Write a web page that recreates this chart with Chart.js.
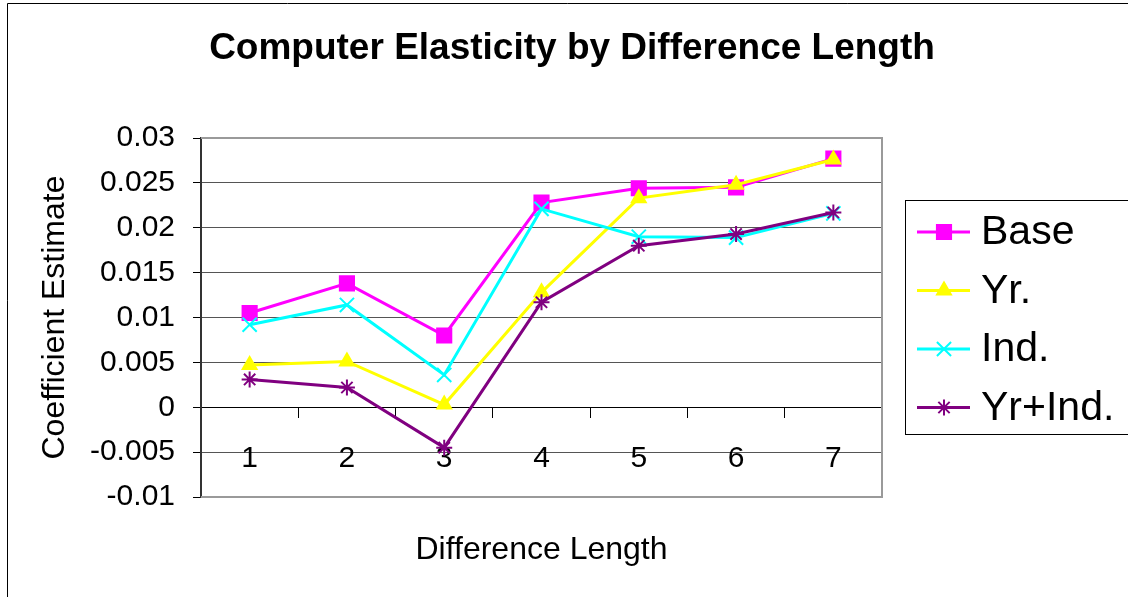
<!DOCTYPE html>
<html>
<head>
<meta charset="utf-8">
<script src="https://cdn.jsdelivr.net/npm/chart.js@4.4.0/dist/chart.umd.min.js"></script>
<style>
  html, body { margin: 0; padding: 0; background: #fff; }
  #wrap { width: 1128px; height: 597px; }
</style>
</head>
<body>
<div id="wrap"><canvas id="elasticityChart" width="1128" height="597"></canvas></div>
<script>
const diffLengths = ['1', '2', '3', '4', '5', '6', '7'];
const baseValues = [0.0105, 0.0138, 0.0080, 0.0228, 0.0244, 0.0245, 0.0277];
const yrValues = [0.0047, 0.0051, 0.0003, 0.0128, 0.0233, 0.0248, 0.0276];
const indValues = [0.0092, 0.0114, 0.0036, 0.0221, 0.0190, 0.0189, 0.0216];
const yrIndValues = [0.0031, 0.0022, -0.0045, 0.0117, 0.0180, 0.0193, 0.0217];
const seriesNames = ['Base', 'Yr.', 'Ind.', 'Yr+Ind.'];
const yTickLabels = ['-0.01', '-0.005', '0', '0.005', '0.01', '0.015', '0.02', '0.025', '0.03'];
const yMin = -0.01, yMax = 0.03, yStep = 0.005;

const FONT = "'Liberation Sans', Arial, sans-serif";

function makeSeries(label, data, color, pointStyle, radius, order) {
    return {
        label: label,
        data: data,
        borderColor: color,
        backgroundColor: color,
        pointBackgroundColor: color,
        pointBorderColor: color,
        pointStyle: pointStyle,
        pointRadius: radius,
        pointHoverRadius: radius,
        pointBorderWidth: 2,
        borderWidth: 3,
        tension: 0,
        fill: false,
        order: order
    };
}

// page frame + plot area border
const chartFrame = {
    id: 'chartFrame',
    beforeDraw(chart) {
        const ctx = chart.ctx;
        ctx.save();
        ctx.fillStyle = '#fff';
        ctx.fillRect(0, 0, chart.width, chart.height);
        ctx.strokeStyle = '#000';
        ctx.lineWidth = 1;
        ctx.beginPath();
        ctx.moveTo(7.5, chart.height);
        ctx.lineTo(7.5, 3.5);
        ctx.lineTo(chart.width, 3.5);
        ctx.stroke();
        ctx.restore();
    },
    beforeDatasetsDraw(chart) {
        const { ctx, chartArea: a } = chart;
        ctx.save();
        ctx.strokeStyle = '#9a9a9a';
        ctx.lineWidth = 2;
        ctx.beginPath();
        ctx.moveTo(a.left, a.top);
        ctx.lineTo(a.right, a.top);
        ctx.lineTo(a.right, a.bottom);
        ctx.lineTo(a.left, a.bottom);
        ctx.stroke();
        ctx.restore();
    }
};

// excel style legend: line with marker, boxed
const excelLegend = {
    id: 'excelLegend',
    afterDraw(chart) {
        const ctx = chart.ctx;
        ctx.save();
        ctx.strokeStyle = '#000';
        ctx.lineWidth = 1;
        ctx.strokeRect(905.5, 200.5, 240, 234);
        chart.data.datasets.forEach((ds, i) => {
            const y = 232 + i * 58.5;
            ctx.strokeStyle = ds.borderColor;
            ctx.lineWidth = 3;
            ctx.beginPath();
            ctx.moveTo(917, y);
            ctx.lineTo(970, y);
            ctx.stroke();
            ctx.fillStyle = ds.pointBackgroundColor;
            ctx.strokeStyle = ds.pointBorderColor;
            ctx.lineWidth = ds.pointBorderWidth;
            Chart.helpers.drawPoint(ctx, {
                pointStyle: ds.pointStyle,
                radius: ds.pointRadius,
                rotation: 0,
                borderWidth: ds.pointBorderWidth
            }, 944, y);
            ctx.fillStyle = '#000';
            ctx.font = '41px ' + FONT;
            ctx.textAlign = 'left';
            ctx.textBaseline = 'middle';
            ctx.fillText(ds.label, 981, y + 1);
        });
        ctx.restore();
    }
};

new Chart(document.getElementById('elasticityChart'), {
    type: 'line',
    data: {
        labels: diffLengths,
        datasets: [
            makeSeries(seriesNames[0], baseValues, '#FF00FF', 'rect', 10, 3),
            makeSeries(seriesNames[1], yrValues, '#FFFF00', 'triangle', 8, 2),
            makeSeries(seriesNames[2], indValues, '#00FFFF', 'crossRot', 10, 1),
            makeSeries(seriesNames[3], yrIndValues, '#800080', 'star', 8, 0)
        ]
    },
    options: {
        responsive: false,
        animation: false,
        layout: { padding: { left: 16, right: 0, top: 0, bottom: 0 } },
        plugins: {
            legend: { display: false },
            tooltip: { enabled: false },
            title: {
                display: true,
                text: 'Computer Elasticity by Difference Length',
                color: '#000',
                font: { family: FONT, size: 37, weight: 'bold' },
                padding: { top: 27, bottom: 66.6 }
            },
            subtitle: {
                display: true,
                text: 'Difference Length',
                position: 'bottom',
                fullSize: false,
                color: '#000',
                font: { family: FONT, size: 32 },
                padding: { top: 34, bottom: 27.6 }
            }
        },
        scales: {
            x: {
                type: 'category',
                position: { y: 0 },
                offset: true,
                grid: {
                    drawOnChartArea: false,
                    drawTicks: true,
                    tickLength: 10,
                    color: '#000',
                    offset: true
                },
                border: { color: '#000', width: 1 },
                ticks: {
                    color: '#000',
                    font: { family: FONT, size: 30 },
                    padding: 23,
                    maxRotation: 0
                }
            },
            y: {
                min: yMin,
                max: yMax,
                grid: {
                    color: '#555',
                    lineWidth: 1,
                    tickLength: 8,
                    tickColor: '#000'
                },
                border: { color: '#333', width: 2 },
                ticks: {
                    stepSize: yStep,
                    color: '#000',
                    padding: 18,
                    font: { family: FONT, size: 30 },
                    callback: (value) => yTickLabels[Math.round((value - yMin) / yStep)]
                },
                title: {
                    display: true,
                    text: 'Coefficient Estimate',
                    color: '#000',
                    font: { family: FONT, size: 32 },
                    padding: { top: 20, bottom: 0 }
                },
                afterFit: (scale) => { scale.width = 185; }
            },
            pad: {
                type: 'linear',
                position: 'right',
                grid: { display: false },
                border: { display: false },
                ticks: { display: false },
                afterFit: (scale) => { scale.width = 246; }
            }
        }
    },
    plugins: [chartFrame, excelLegend]
});
</script>
</body>
</html>
